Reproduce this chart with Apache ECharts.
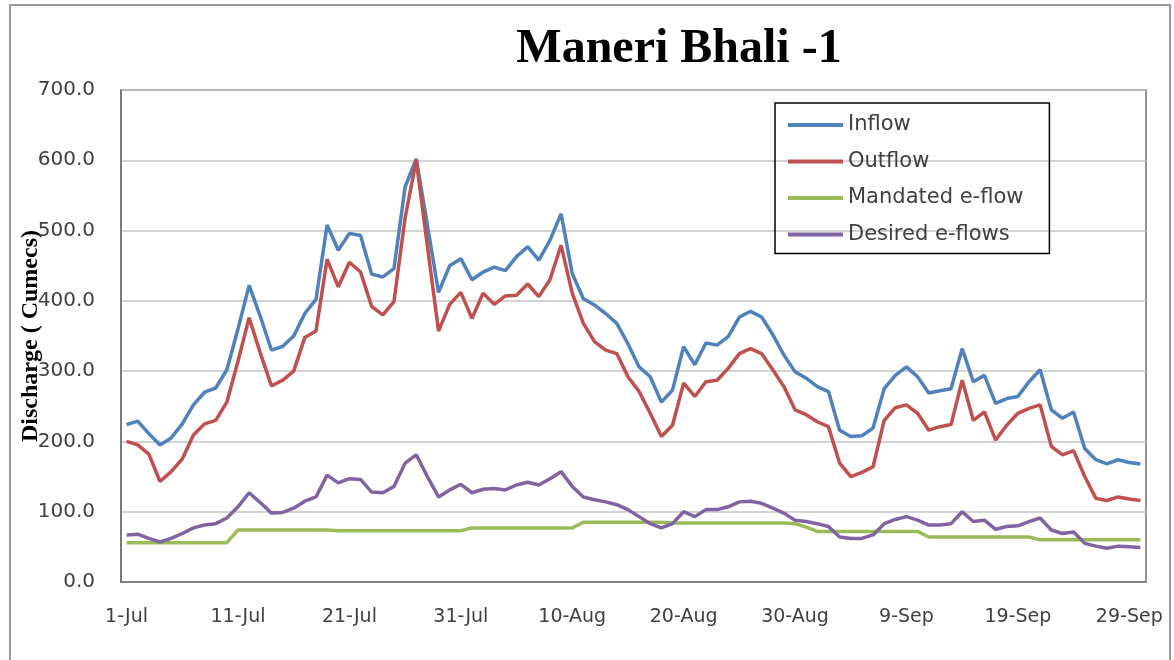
<!DOCTYPE html>
<html>
<head>
<meta charset="utf-8">
<script src="https://cdn.jsdelivr.net/npm/echarts@6/dist/echarts.min.js"></script>
<style>
  html, body { margin: 0; padding: 0; background: #fff; }
  #chart { width: 1174px; height: 660px; }
</style>
</head>
<body>
<div id="chart"></div>
<script>
// daily values, 1-Jul .. 30-Sep
const inflow = [
  224, 229, 211, 195, 205, 225, 252, 270, 276, 302,
  360, 422, 378, 330, 335, 350, 382, 402, 508, 472,
  496, 493, 438, 434, 446, 562, 602, 508, 412, 450,
  460, 430, 441, 448, 443, 463, 477, 458, 486, 524,
  439, 403, 394, 382, 368, 339, 306, 292, 256, 273,
  335, 309, 340, 337, 349, 377, 385, 377, 352, 323,
  299, 290, 278, 271, 216, 207, 208, 219, 275, 294,
  306, 292, 269, 272, 275, 332, 285, 294, 254, 261,
  264, 285, 302, 245, 233, 242, 190, 174, 168, 174,
  170, 168
];
const outflow = [
  200, 195, 182, 143, 157, 175, 209, 225, 230, 256,
  314, 376, 326, 279, 287, 300, 348, 357, 459, 420,
  455, 441, 392, 380, 399, 518, 600, 478, 357, 395,
  412, 375, 411, 395, 407, 408, 424, 406, 430, 479,
  411, 368, 342, 330, 325, 292, 271, 240, 207, 223,
  283, 264, 285, 287, 304, 325, 332, 325, 302, 278,
  245, 238, 228, 221, 169, 150, 156, 164, 230, 248,
  252, 240, 216, 221, 224, 287, 230, 242, 202, 223,
  240, 247, 252, 193, 181, 187, 150, 119, 116, 121,
  118, 116
];
const mandated = [
  56, 56, 56, 56, 56, 56, 56, 56, 56, 56,
  74, 74, 74, 74, 74, 74, 74, 74, 74, 73,
  73, 73, 73, 73, 73, 73, 73, 73, 73, 73,
  73, 77, 77, 77, 77, 77, 77, 77, 77, 77,
  77, 85, 85, 85, 85, 85, 85, 85, 85, 84,
  84, 84, 84, 84, 84, 84, 84, 84, 84, 84,
  83, 78, 72, 72, 72, 72, 72, 72, 72, 72,
  72, 72, 64, 64, 64, 64, 64, 64, 64, 64,
  64, 64, 60, 60, 60, 60, 60, 60, 60, 60,
  60, 60
];
const desired = [
  67, 68, 62, 57, 62, 69, 77, 81, 83, 91,
  107, 127, 113, 98, 99, 105, 115, 121, 152, 141,
  147, 146, 128, 127, 136, 169, 181, 150, 121, 131,
  139, 127, 132, 133, 131, 138, 142, 138, 147, 157,
  136, 121, 117, 114, 110, 103, 93, 83, 77, 83,
  100, 93, 103, 103, 107, 114, 115, 112, 105, 98,
  88, 86, 83, 79, 64, 62, 62, 67, 83, 89,
  93, 88, 81, 81, 83, 100, 86, 88, 75, 79,
  80, 86, 91, 74, 69, 71, 55, 51, 48, 51,
  50, 49
];

const months = [["Jul", 31], ["Aug", 31], ["Sep", 30]];
const days = [];
months.forEach(function (m) {
  for (let d = 1; d <= m[1]; d++) days.push(d + "-" + m[0]);
});

const chart = echarts.init(document.getElementById("chart"));
const labelFont = "DejaVu Sans";

function lineSeries(name, data, color) {
  return {
    name: name,
    type: "line",
    data: data,
    symbol: "none",
    smooth: false,
    lineStyle: { width: 3.5, color: color },
    itemStyle: { color: color }
  };
}

chart.setOption({
  animation: false,
  title: {
    text: "Maneri Bhali -1",
    left: 674,
    top: 21,
    textAlign: "center",
    textStyle: {
      fontFamily: "Liberation Serif",
      fontWeight: "bold",
      fontSize: 48,
      color: "#000"
    }
  },
  legend: {
    orient: "vertical",
    left: 775,
    top: 103,
    icon: "rect",
    itemWidth: 55,
    itemHeight: 4,
    itemGap: 12.5,
    padding: [10, 26, 7, 13],
    borderColor: "#000",
    borderWidth: 1.5,
    textStyle: { fontFamily: labelFont, fontSize: 21, lineHeight: 24, color: "#404040" },
    data: ["Inflow", "Outflow", "Mandated e-flow", "Desired e-flows"]
  },
  grid: {
    left: 121,
    right: 28,
    top: 90,
    bottom: 78,
    outerBoundsMode: "none",
    show: true,
    borderColor: "#707070",
    borderWidth: 1.5
  },
  xAxis: {
    type: "category",
    data: days,
    boundaryGap: true,
    axisLine: { lineStyle: { color: "#707070", width: 1.5 } },
    axisTick: { show: false },
    axisLabel: {
      interval: 9,
      margin: 26,
      fontFamily: labelFont,
      fontSize: 19,
      color: "#404040"
    },
    splitLine: { show: false }
  },
  yAxis: {
    type: "value",
    min: 0,
    max: 700,
    interval: 100,
    name: "Discharge ( Cumecs)",
    nameLocation: "middle",
    nameGap: 78,
    nameMoveOverlap: false,
    nameTextStyle: {
      fontFamily: "Liberation Serif",
      fontWeight: "bold",
      fontSize: 24,
      color: "#000"
    },
    axisLine: { show: true, lineStyle: { color: "#707070", width: 1.5 } },
    axisTick: { show: false },
    axisLabel: {
      margin: 26,
      fontFamily: labelFont,
      fontSize: 20,
      color: "#404040",
      formatter: function (v) { return v.toFixed(1); }
    },
    splitLine: { lineStyle: { color: "#c4c4c4", width: 1.5 } }
  },
  graphic: [
    {
      type: "rect",
      shape: { x: 10, y: 5, width: 1160, height: 670 },
      style: { fill: "none", stroke: "#9a9a9a", lineWidth: 2 },
      silent: true
    }
  ],
  series: [
    lineSeries("Inflow", inflow, "#4F81BD"),
    lineSeries("Outflow", outflow, "#C0504D"),
    lineSeries("Mandated e-flow", mandated, "#9BBB59"),
    lineSeries("Desired e-flows", desired, "#8064A2")
  ]
});
</script>
</body>
</html>
